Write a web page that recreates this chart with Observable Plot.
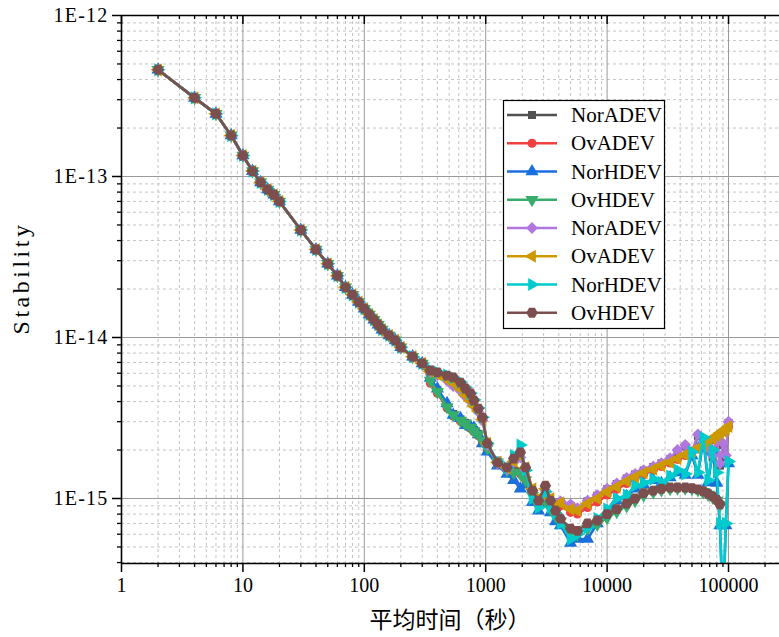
<!DOCTYPE html>
<html><head><meta charset="utf-8">
<script src="https://cdn.jsdelivr.net/npm/d3@7"></script>
<script src="https://cdn.jsdelivr.net/npm/@observablehq/plot@0.6"></script>
<style>
html,body{margin:0;padding:0;background:#fff;}
#chart{width:779px;height:637px;}
</style></head><body><div id="chart"></div>
<script>
// averaging time tau (s)
const tau = [2,4,6,8,10,12,14,16,18,20,30,40,50,60,70,80,90,100,110,120,130,140,160,180,200,250,300,
  350,400,480,540,620,680,750,800,870,940,
  1030,1250,1500,1700,1930,2130,2430,2720,3100,3420,3760,
  4130,5000,5700,6900,8300,10000,12000,14500,17000,20000,24000,28000,33000,38000,44000,50000,56000,62000,68000,74000,80000,85000,90000,95000,100000];

// short-tau part shared by all curves (they overlap there)
const early = [4.6e-13,3.08e-13,2.45e-13,1.8e-13,1.35e-13,1.08e-13,9.2e-14,8.3e-14,7.7e-14,7.0e-14,4.65e-14,3.52e-14,2.87e-14,2.42e-14,2.05e-14,1.84e-14,1.66e-14,1.51e-14,1.39e-14,1.29e-14,1.2e-14,1.12e-14,1.03e-14,9.6e-15,8.7e-15,7.6e-15,6.9e-15];

const norADEV1 = [...early,
  5.5e-15,4.7e-15,3.75e-15,3.35e-15,3.1e-15,2.95e-15,2.78e-15,2.66e-15,2.52e-15,2.3e-15,
  2.05e-15,1.72e-15,1.55e-15,1.5e-15,1.48e-15,1.35e-15,1.1e-15,9.6e-16,1.04e-15,9.3e-16,8.7e-16,
  9.5e-16,9.0e-16,8.6e-16,9.6e-16,1.04e-15,1.14e-15,1.23e-15,1.33e-15,1.41e-15,1.49e-15,1.57e-15,1.65e-15,1.75e-15,1.95e-15,2.1e-15,1.9e-15,2.45e-15,2.2e-15,2.0e-15,1.8e-15,2.3e-15,1.6e-15,2.15e-15,1.8e-15,2.95e-15];
const ovADEV1 = [...early,
  5.2e-15,4.5e-15,3.65e-15,3.25e-15,3.02e-15,2.88e-15,2.72e-15,2.6e-15,2.45e-15,2.25e-15,
  2.0e-15,1.66e-15,1.5e-15,1.45e-15,1.42e-15,1.3e-15,1.07e-15,9.4e-16,1.02e-15,9.1e-16,8.5e-16,
  9.0e-16,8.2e-16,8.0e-16,8.8e-16,9.5e-16,1.05e-15,1.14e-15,1.24e-15,1.33e-15,1.41e-15,1.5e-15,1.58e-15,1.66e-15,1.75e-15,1.85e-15,1.94e-15,2.03e-15,2.12e-15,2.22e-15,2.33e-15,2.43e-15,2.53e-15,2.6e-15,2.68e-15,2.78e-15];
const norHDEV1 = [...early,
  5.6e-15,4.8e-15,3.9e-15,3.3e-15,3.15e-15,2.85e-15,2.8e-15,2.75e-15,2.5e-15,2.2e-15,
  1.95e-15,1.6e-15,1.42e-15,1.3e-15,1.15e-15,1.22e-15,9.5e-16,8.4e-16,9.4e-16,8.2e-16,7.2e-16,
  6.8e-16,5.3e-16,5.6e-16,5.6e-16,7.0e-16,8.3e-16,9.7e-16,1.03e-15,1.15e-15,1.22e-15,1.3e-15,1.24e-15,1.35e-15,1.45e-15,1.4e-15,1.85e-15,1.4e-15,2.3e-15,1.26e-15,1.95e-15,1.25e-15,6.8e-16,2.0e-16,6.8e-16,1.65e-15];
const ovHDEV1 = [...early,
  5.4e-15,4.6e-15,3.7e-15,3.3e-15,3.05e-15,2.92e-15,2.76e-15,2.62e-15,2.5e-15,2.28e-15,
  2.05e-15,1.68e-15,1.5e-15,1.45e-15,1.42e-15,1.3e-15,1.04e-15,9.0e-16,9.8e-16,8.6e-16,7.8e-16,
  7.2e-16,6.2e-16,6.0e-16,6.5e-16,6.9e-16,7.6e-16,8.3e-16,9.0e-16,9.7e-16,1.05e-15,1.1e-15,1.13e-15,1.15e-15,1.16e-15,1.16e-15,1.15e-15,1.13e-15,1.1e-15,1.06e-15,1.02e-15,9.7e-16,9.1e-16,null,null,null];
const norADEV2 = [...early,
  6.1e-15,5.85e-15,5.4e-15,5.0e-15,4.65e-15,4.3e-15,4.0e-15,3.75e-15,3.45e-15,3.05e-15,
  2.15e-15,1.65e-15,1.52e-15,1.68e-15,1.8e-15,1.5e-15,1.12e-15,9.8e-16,1.12e-15,9.8e-16,9.2e-16,
  9.6e-16,9.2e-16,8.7e-16,9.7e-16,1.05e-15,1.15e-15,1.24e-15,1.34e-15,1.42e-15,1.5e-15,1.58e-15,1.66e-15,1.78e-15,2.0e-15,2.15e-15,1.95e-15,2.5e-15,2.25e-15,2.05e-15,1.85e-15,2.35e-15,1.65e-15,2.2e-15,1.85e-15,3.0e-15];
const ovADEV2 = [...early,
  6.15e-15,5.9e-15,5.5e-15,5.2e-15,4.8e-15,4.4e-15,4.05e-15,3.75e-15,3.5e-15,3.1e-15,
  2.2e-15,1.68e-15,1.55e-15,1.7e-15,1.85e-15,1.55e-15,1.15e-15,1.0e-15,1.15e-15,1.0e-15,9.0e-16,
  9.4e-16,8.6e-16,8.4e-16,9.3e-16,1.0e-15,1.1e-15,1.18e-15,1.28e-15,1.36e-15,1.44e-15,1.52e-15,1.6e-15,1.68e-15,1.77e-15,1.87e-15,1.96e-15,2.05e-15,2.14e-15,2.24e-15,2.35e-15,2.45e-15,2.55e-15,2.62e-15,2.7e-15,2.8e-15];
const norHDEV2 = [...early,
  6.3e-15,6.1e-15,5.85e-15,5.65e-15,5.3e-15,4.9e-15,4.5e-15,4.1e-15,3.65e-15,3.2e-15,
  2.2e-15,1.7e-15,1.55e-15,1.85e-15,2.15e-15,1.5e-15,1.0e-15,8.8e-16,1.1e-15,8.8e-16,8.0e-16,
  7.0e-16,5.6e-16,6.0e-16,6.6e-16,7.5e-16,8.6e-16,1.0e-15,1.05e-15,1.2e-15,1.25e-15,1.32e-15,1.26e-15,1.38e-15,1.5e-15,1.42e-15,1.95e-15,1.45e-15,2.4e-15,1.3e-15,2.0e-15,1.45e-15,7.0e-16,2.0e-16,7.0e-16,1.7e-15];
const ovHDEV2 = [...early,
  6.24e-15,6.07e-15,5.8e-15,5.65e-15,5.25e-15,4.82e-15,4.49e-15,4.06e-15,3.62e-15,3.18e-15,
  2.2e-15,1.67e-15,1.56e-15,1.77e-15,1.93e-15,1.56e-15,1.12e-15,9.7e-16,1.2e-15,9.7e-16,8.4e-16,
  7.5e-16,6.5e-16,6.3e-16,7.0e-16,7.3e-16,8.0e-16,8.6e-16,9.3e-16,1.0e-15,1.08e-15,1.12e-15,1.15e-15,1.17e-15,1.17e-15,1.17e-15,1.16e-15,1.14e-15,1.11e-15,1.07e-15,1.03e-15,9.8e-16,9.2e-16,null,null,null];

const seriesNames = ["NorADEV","OvADEV","NorHDEV","OvHDEV","NorADEV","OvADEV","NorHDEV","OvHDEV"];
const seriesValues = [norADEV1, ovADEV1, norHDEV1, ovHDEV1, norADEV2, ovADEV2, norHDEV2, ovHDEV2];
const colors = ["#515151","#F14040","#1A6FDF","#37AD6B","#B177DE","#CC9900","#00CBCC","#7D4E4E"];

const xTicks = [1,10,100,1000,10000,100000];
const xTickLabels = ["1","10","100","1000","10000","100000"];
const yTicks = [1e-15,1e-14,1e-13,1e-12];
const yTickLabels = ["1E-15","1E-14","1E-13","1E-12"];
const xTitle = "平均时间（秒）";
const yTitle = "Stability";

// axis extents
const xMax = Math.pow(10, 5.42);
const yMin = Math.pow(10, -15.4037);

const xMinor = [];
for (const d of [1,10,100,1000,10000,100000]) for (let k = 2; k <= 9; k++) if (d*k <= xMax) xMinor.push(d*k);
const yMinor = [];
for (const d of [1e-16,1e-15,1e-14,1e-13]) for (let k = 2; k <= 9; k++) { const v = +(d*k).toPrecision(3); if (v >= yMin && v <= 1e-12) yMinor.push(v); }

// marker symbols
function poly(n, startDeg) {
  return { draw(ctx, size) {
    const R = Math.sqrt(2*size/(n*Math.sin(2*Math.PI/n)));
    for (let k = 0; k < n; k++) {
      const a = (startDeg + 360*k/n)*Math.PI/180;
      const x = R*Math.cos(a), y = R*Math.sin(a);
      if (k) ctx.lineTo(x, y); else ctx.moveTo(x, y);
    }
    ctx.closePath();
  }};
}
const symbols = [d3.symbolSquare, d3.symbolCircle, poly(3,-90), poly(3,90), poly(4,-90), poly(3,180), poly(3,0), poly(6,0)];
const symSizes = [64, 64, 75, 75, 70, 75, 75, 84];

const marks = [];
// grid
marks.push(Plot.ruleX(xMinor, {x: d => d, stroke: "#c4c4c4", strokeWidth: 1, strokeDasharray: "3,3"}));
marks.push(Plot.ruleY(yMinor, {y: d => d, stroke: "#c4c4c4", strokeWidth: 1, strokeDasharray: "3,3"}));
marks.push(Plot.ruleX(xTicks, {x: d => d, stroke: "#9a9a9a", strokeWidth: 1}));
marks.push(Plot.ruleY(yTicks, {y: d => d, stroke: "#9a9a9a", strokeWidth: 1}));

seriesValues.forEach((vals, i) => {
  const rows = tau.map((t, j) => ({tau: t, v: vals[j]})).filter(r => r.v != null);
  marks.push(Plot.line(rows, {x: "tau", y: "v", stroke: colors[i], strokeWidth: 2.6, clip: true}));
  marks.push(Plot.dot(rows, {x: "tau", y: "v", fill: colors[i], stroke: "none", r: Math.sqrt(symSizes[i]/Math.PI), symbol: symbols[i], clip: true}));
});

// axis lines
marks.push(Plot.ruleY([yMin], {y: d => d, stroke: "#000", strokeWidth: 1.6}));
marks.push(Plot.ruleY([1e-12], {y: d => d, stroke: "#000", strokeWidth: 1.6}));
marks.push(Plot.ruleX([1], {x: d => d, stroke: "#000", strokeWidth: 1.6}));
// minor ticks (outside on bottom/left, inward on top)
marks.push(Plot.ruleX(xMinor, {x: d => d, y1: yMin, y2: yMin, insetBottom: -4, stroke: "#000", strokeWidth: 1.3}));
marks.push(Plot.ruleX(xMinor, {x: d => d, y1: 1e-12, y2: 1e-12, insetBottom: -4, stroke: "#000", strokeWidth: 1.3}));
marks.push(Plot.ruleX(xTicks, {x: d => d, y1: 1e-12, y2: 1e-12, insetBottom: -9, stroke: "#000", strokeWidth: 1.5}));
marks.push(Plot.ruleY(yMinor, {y: d => d, x1: 1, x2: 1, insetLeft: -4, stroke: "#000", strokeWidth: 1.3}));
// major ticks + labels
marks.push(Plot.axisX({ticks: xTicks, anchor: "bottom", tickSize: 9, tickPadding: 5, strokeWidth: 1.5, label: null, fontSize: 20,
  tickFormat: d => xTickLabels[xTicks.indexOf(d)]}));
marks.push(Plot.axisY({ticks: yTicks, anchor: "left", tickSize: 9, tickPadding: 4, strokeWidth: 1.5, label: null, fontSize: 20,
  tickFormat: d => yTickLabels[yTicks.findIndex(t => Math.abs(Math.log10(t) - Math.log10(d)) < 1e-6)]}));

const plot = Plot.plot({
  width: 779, height: 637,
  marginLeft: 121, marginRight: 0, marginTop: 15, marginBottom: 74,
  style: {fontFamily: "'Liberation Serif', serif", fontSize: "20px", color: "#000", background: "#fff", overflow: "visible"},
  x: {type: "log", domain: [1, xMax]},
  y: {type: "log", domain: [yMin, 1e-12]},
  marks
});
document.getElementById("chart").appendChild(plot);

const svg = d3.select(plot);
svg.selectAll("g[aria-label='y-axis tick label'] text").attr("letter-spacing", 1.2);
// axis titles
svg.append("text").attr("x", 450).attr("y", 618).attr("text-anchor", "middle").attr("dominant-baseline", "central")
  .attr("font-family", "'Noto Sans CJK SC', sans-serif").attr("font-size", 23).attr("fill", "#000").text(xTitle);
svg.append("text").attr("transform", "translate(21,278) rotate(-90)").attr("text-anchor", "middle").attr("dominant-baseline", "central")
  .attr("font-family", "'Liberation Serif', serif").attr("font-size", 24).attr("letter-spacing", 3.5).attr("fill", "#000").text(yTitle);

// legend
const lg = svg.append("g");
lg.append("rect").attr("x", 503.5).attr("y", 100.5).attr("width", 161).attr("height", 228)
  .attr("fill", "#fff").attr("stroke", "#000").attr("stroke-width", 1.2);
seriesNames.forEach((name, i) => {
  const y = 115 + i*28.25;
  lg.append("line").attr("x1", 507).attr("x2", 557).attr("y1", y).attr("y2", y).attr("stroke", colors[i]).attr("stroke-width", 2.6);
  lg.append("path").attr("d", d3.symbol(symbols[i], symSizes[i])()).attr("transform", `translate(532,${y})`).attr("fill", colors[i]);
  lg.append("text").attr("x", 571).attr("y", y).attr("text-anchor", "start").attr("dominant-baseline", "central")
    .attr("font-family", "'Liberation Serif', serif").attr("font-size", 21).attr("fill", "#000").text(name);
});
</script>
</body></html>
